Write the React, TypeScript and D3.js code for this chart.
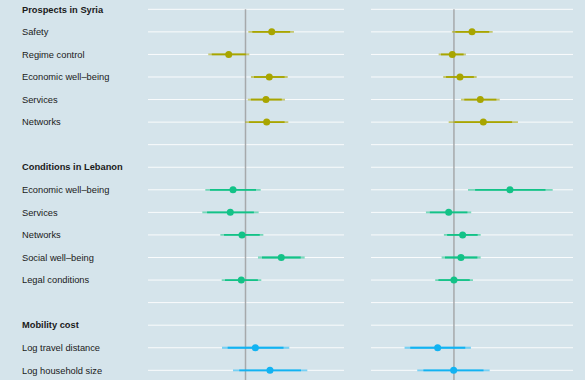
import React from "react";
import * as d3 from "d3";

const rowLabels = [
  "Prospects in Syria", "Safety", "Regime control", "Economic well\u2013being", "Services", "Networks", "",
  "Conditions in Lebanon", "Economic well\u2013being", "Services", "Networks", "Social well\u2013being", "Legal conditions", "",
  "Mobility cost", "Log travel distance", "Log household size",
];
const headerRows = [0, 7, 14];
const itemRows = [1, 2, 3, 4, 5, 8, 9, 10, 11, 12, 15, 16];
const itemGroup = ["syria", "syria", "syria", "syria", "syria", "leb", "leb", "leb", "leb", "leb", "mob", "mob"];

// Left panel
const leftEst = [0.0269, -0.0172, 0.0244, 0.021, 0.0217, -0.0128, -0.0156, -0.0036, 0.0367, -0.0043, 0.0101, 0.0251];
const leftLo95 = [0.0029, -0.0382, 0.0056, 0.0023, -0.0002, -0.0412, -0.0443, -0.0258, 0.0128, -0.0244, -0.0241, -0.0128];
const leftHi95 = [0.0497, 0.0039, 0.0433, 0.0405, 0.0439, 0.0156, 0.0135, 0.0183, 0.0607, 0.0162, 0.0449, 0.0634];
const leftLo90 = [0.007, -0.0346, 0.0088, 0.0055, 0.0035, -0.0364, -0.0394, -0.022, 0.0169, -0.021, -0.0183, -0.0064];
const leftHi90 = [0.0458, 0.0003, 0.0401, 0.0372, 0.0401, 0.0108, 0.0086, 0.0146, 0.0566, 0.0127, 0.039, 0.0569];

// Right panel
const rightEst = [0.0185, -0.0017, 0.0062, 0.027, 0.0301, 0.0574, -0.0054, 0.0089, 0.0072, 0.0, -0.0167, -0.0003];
const rightLo95 = [-0.0021, -0.0157, -0.011, 0.0072, -0.0054, 0.0144, -0.0287, -0.0103, -0.0126, -0.0192, -0.0506, -0.0376];
const rightHi95 = [0.0397, 0.0123, 0.0233, 0.0469, 0.0656, 0.1012, 0.0177, 0.0274, 0.0274, 0.0195, 0.0174, 0.0366];
const rightLo90 = [0.0014, -0.0133, -0.0081, 0.0106, 0.0006, 0.0217, -0.0247, -0.007, -0.0092, -0.0159, -0.0448, -0.0313];
const rightHi90 = [0.0361, 0.0099, 0.0204, 0.0435, 0.0596, 0.0938, 0.0138, 0.0243, 0.024, 0.0162, 0.0116, 0.0303];

const groupColors: Record<string, string> = { syria: "#a8a500", leb: "#13c287", mob: "#12b3f2" };

const W = 585, H = 380;

export default function App() {
  const y = d3.scalePoint<number>().domain(d3.range(rowLabels.length)).range([9.3, 370.3]);
  const xL = d3.scaleLinear().domain([-0.1, 0.1]).range([148, 343]);
  const xR = d3.scaleLinear().domain([-0.085, 0.122]).range([371, 573]);
  const font = "'Liberation Sans', Arial, Helvetica, sans-serif";

  const panels = [
    { x: xL, est: leftEst, lo95: leftLo95, hi95: leftHi95, lo90: leftLo90, hi90: leftHi90, g0: 148, g1: 344 },
    { x: xR, est: rightEst, lo95: rightLo95, hi95: rightHi95, lo90: rightLo90, hi90: rightHi90, g0: 371, g1: 573 },
  ];

  return (
    <svg width={W} height={H} style={{ position: "absolute", left: 0, top: 0 }}>
      <rect x={0} y={0} width={W} height={H} fill="#d5e4eb" />
      {panels.map((p, pi) => (
        <g key={pi}>
          {rowLabels.map((_, i) => (
            <line key={i} x1={p.g0} x2={p.g1} y1={y(i)} y2={y(i)} stroke="#ffffff" strokeWidth={1} opacity={0.9} />
          ))}
          <line x1={p.x(0)} x2={p.x(0)} y1={y(0)} y2={H} stroke="#a6a9ab" strokeWidth={1.5} />
          {itemRows.map((r, k) => {
            const c = groupColors[itemGroup[k]];
            const yy = y(r)!;
            return (
              <g key={k}>
                <line x1={p.x(p.lo95[k])} x2={p.x(p.hi95[k])} y1={yy} y2={yy} stroke={c} strokeWidth={1.8} opacity={0.55} />
                <line x1={p.x(p.lo90[k])} x2={p.x(p.hi90[k])} y1={yy} y2={yy} stroke={c} strokeWidth={1.8} />
                <circle cx={p.x(p.est[k])} cy={yy} r={3.5} fill={c} />
              </g>
            );
          })}
        </g>
      ))}
      {rowLabels.map((t, i) => (
        <text
          key={i}
          x={22}
          y={y(i)}
          dy="0.35em"
          fontFamily={font}
          fontSize={9.3}
          fontWeight={headerRows.includes(i) ? "bold" : "normal"}
          fill="#1a1a1a"
        >
          {t}
        </text>
      ))}
    </svg>
  );
}
